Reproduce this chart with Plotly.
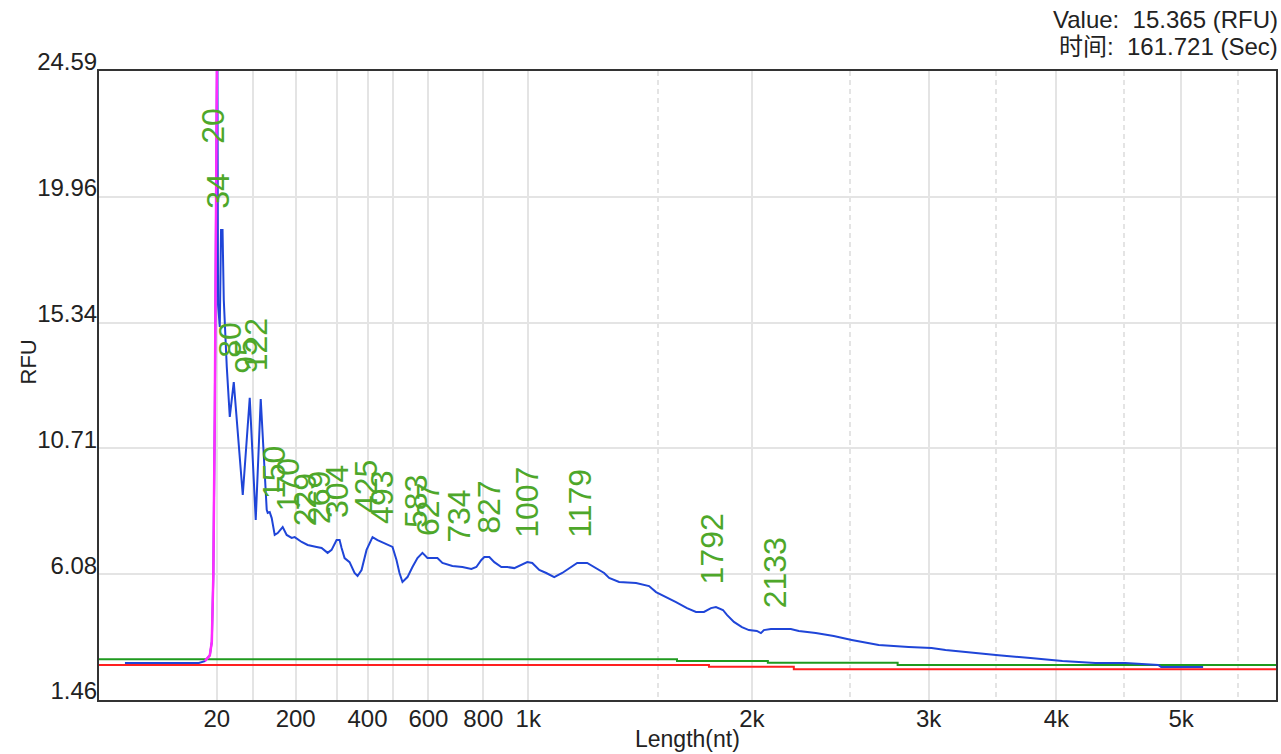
import plotly.graph_objects as go

# ---- Size ladder: migration time (s) of each calibrated fragment length ----
ladder_time = [53.6, 60.8, 69.4, 77.6, 83.8, 88.8, 96.0, 107.0, 116.0, 160.8, 196.2, 221.8, 246.8]
ladder_text = ["20", "", "200", "", "400", "", "600", "800", "1k", "2k", "3k", "4k", "5k"]
ladder_minor_time = [142.0, 180.4, 209.8, 235.4, 258.2]   # 1.5k, 2.5k, 3.5k, 4.5k, 5.5k

# ---- RFU axis ticks ----
rfu_ticks = [1.46, 6.08, 10.71, 15.34, 19.96, 24.59]

# ---- Sample electropherogram (time s, RFU) ----
sample_time = [
    35.2, 50.0, 51.2, 52.2, 52.6, 52.9, 53.2, 53.5, 53.7, 53.85,
    54.2, 54.45, 54.75, 55.0, 55.6, 56.2, 57.0, 58.8, 60.2, 61.4,
    62.4, 63.6, 63.8, 64.2, 64.6, 65.2, 65.8, 66.8, 67.6, 68.6,
    69.2, 70.6, 71.8, 73.6, 74.6, 75.8, 76.6, 77.6, 78.2, 78.6,
    79.2, 80.2, 81.2, 81.8, 82.6, 83.6, 84.8, 85.8, 87.2, 88.2,
    88.8, 89.6, 90.2, 90.8, 91.8, 92.8, 93.8, 94.8, 95.8, 97.8,
    98.8, 100.8, 102.8, 104.6, 105.6, 106.6, 107.2, 108.2, 109.2, 110.6,
    111.8, 113.2, 114.6, 115.8, 116.8, 118.2, 119.6, 121.2, 122.8, 124.2,
    125.8, 127.8, 129.6, 131.2, 132.2, 134.2, 137.6, 140.2, 141.6, 143.6,
    145.6, 147.8, 149.6, 151.2, 152.6, 153.6, 155.0, 155.8, 157.2, 158.8,
    160.2, 161.8, 162.6, 163.2, 164.6, 168.6, 170.2, 173.6, 177.2, 180.8,
    183.6, 186.2, 192.2, 196.8, 199.6, 203.2, 210.2, 216.6, 223.0, 229.6,
    235.6, 242.2, 242.8, 251.2,
]
sample_rfu = [
    2.82, 2.82, 2.89, 3.10, 3.60, 6.00, 12.0, 20.0, 27.0, 16.0,
    15.18, 18.74, 18.74, 16.17, 13.71, 11.87, 13.15, 9.00, 12.57, 8.08,
    12.53, 8.45, 8.34, 8.37, 8.15, 7.53, 7.60, 7.82, 7.53, 7.42,
    7.45, 7.27, 7.16, 7.09, 7.05, 6.87, 6.98, 7.34, 7.34, 7.05,
    6.68, 6.53, 6.13, 6.02, 6.24, 6.98, 7.45, 7.34, 7.23, 7.16,
    7.09, 6.61, 6.13, 5.80, 5.98, 6.35, 6.68, 6.87, 6.68, 6.68,
    6.50, 6.39, 6.35, 6.28, 6.35, 6.61, 6.72, 6.72, 6.53, 6.35,
    6.35, 6.31, 6.42, 6.53, 6.50, 6.24, 6.13, 5.98, 6.13, 6.31,
    6.50, 6.50, 6.31, 6.13, 5.95, 5.80, 5.76, 5.65, 5.43, 5.25,
    5.06, 4.84, 4.70, 4.70, 4.84, 4.88, 4.77, 4.59, 4.33, 4.14,
    4.03, 4.00, 3.92, 4.03, 4.07, 4.07, 4.00, 3.92, 3.81, 3.67,
    3.56, 3.48, 3.41, 3.37, 3.30, 3.23, 3.11, 3.00, 2.89, 2.82,
    2.82, 2.75, 2.67, 2.67,
]

# ---- Lower marker trace ----
marker_time = [51.2, 52.2, 52.6, 52.9, 53.2, 53.5, 53.7, 53.8]
marker_rfu = [2.89, 3.10, 3.60, 6.00, 12.0, 20.0, 27.0, 32.0]

# ---- Baseline / threshold traces (stepwise) ----
threshold_time = [30.0, 145.8, 164.0, 190.0, 265.8]
threshold_rfu = [2.96, 2.89, 2.83, 2.75, 2.75]
baseline_time = [30.0, 152.2, 169.2, 265.8]
baseline_rfu = [2.75, 2.68, 2.59, 2.59]

# ---- Called peaks: size label, time (s), height (RFU) ----
peak_nt = ["20", "34", "80", "95", "122", "150", "170", "229", "269", "304",
           "425", "493", "583", "627", "734", "827", "1007", "1179", "1792", "2133"]
peak_time = [52.8, 53.8, 56.2, 59.4, 61.4, 65.2, 67.8, 71.2, 74.2, 77.8,
             83.4, 86.8, 93.6, 95.8, 102.2, 108.2, 115.6, 126.2, 152.8, 165.6]
peak_rfu = [21.06, 18.67, 13.19, 12.60, 12.71, 8.01, 7.56, 7.01, 7.09, 7.31,
            7.49, 7.09, 6.94, 6.64, 6.39, 6.72, 6.57, 6.57, 4.88, 4.00]

cursor_value = "15.365"
cursor_time = "161.721"

FONT = "Arial, Liberation Sans, Noto Sans CJK SC, sans-serif"
TEXT = "#222222"
GRID = "#e4e4e4"

fig = go.Figure()
fig.add_trace(go.Scatter(x=threshold_time, y=threshold_rfu, mode="lines",
                         line=dict(color="#1f9a1f", width=2, shape="hv"), hoverinfo="skip"))
fig.add_trace(go.Scatter(x=baseline_time, y=baseline_rfu, mode="lines",
                         line=dict(color="#ff2020", width=2, shape="hv"), hoverinfo="skip"))
fig.add_trace(go.Scatter(x=sample_time, y=sample_rfu, mode="lines",
                         line=dict(color="#1f45d8", width=2), hoverinfo="skip"))
fig.add_trace(go.Scatter(x=marker_time, y=marker_rfu, mode="lines",
                         line=dict(color="#ff2bff", width=2.5), hoverinfo="skip"))

for nt, t, h in zip(peak_nt, peak_time, peak_rfu):
    fig.add_annotation(x=t, y=h, text=nt, showarrow=False, textangle=-90,
                       xanchor="center", yanchor="bottom", yshift=21,
                       font=dict(family=FONT, size=32, color="#4ea72a"))

# cursor readout (two right-aligned lines above the plot frame)
fig.add_annotation(xref="paper", yref="paper", x=1, y=1, xanchor="right", yanchor="middle",
                   xshift=4, yshift=52, showarrow=False, text=f"Value:  {cursor_value} (RFU)",
                   font=dict(family=FONT, size=24, color=TEXT))
fig.add_annotation(xref="paper", yref="paper", x=1, y=1, xanchor="right", yanchor="middle",
                   xshift=4, yshift=25, showarrow=False, text=f"时间:  {cursor_time} (Sec)",
                   font=dict(family=FONT, size=24, color=TEXT))

# axis titles
fig.add_annotation(xref="paper", yref="paper", x=0.5, y=0, xanchor="center", yanchor="middle",
                   yshift=-39, showarrow=False, text="Length(nt)",
                   font=dict(family=FONT, size=23, color=TEXT))
fig.add_annotation(xref="paper", yref="paper", x=0, y=0.5, xanchor="center", yanchor="middle",
                   xshift=-71, yshift=23, showarrow=False, text="RFU", textangle=-90,
                   font=dict(family=FONT, size=22, color=TEXT))

fig.update_layout(
    width=1281, height=754,
    margin=dict(l=99, r=3, t=71, b=54),
    paper_bgcolor="white", plot_bgcolor="white",
    showlegend=False,
    font=dict(family=FONT, size=24, color=TEXT),
)
fig.update_xaxes(
    range=[30, 265.8], tickmode="array", tickvals=ladder_time, ticktext=ladder_text,
    showgrid=True, gridcolor=GRID, gridwidth=1.5, zeroline=False,
    showline=True, linecolor="#333333", linewidth=2, mirror=True,
    ticks="", ticklabelstandoff=-4,
    tickfont=dict(family=FONT, size=24, color=TEXT),
    minor=dict(tickmode="array", tickvals=ladder_minor_time, showgrid=True,
               gridcolor=GRID, gridwidth=1.5, griddash="5px,4px", ticks=""),
)
fig.update_yaxes(
    range=[rfu_ticks[0], rfu_ticks[-1]], tickmode="array", tickvals=rfu_ticks,
    ticktext=[f"{v:.2f}" for v in rfu_ticks],
    showgrid=True, gridcolor=GRID, gridwidth=1.5, zeroline=False,
    showline=True, linecolor="#333333", linewidth=2, mirror=True,
    ticks="", ticklabelstandoff=-5, ticklabelshift=-9,
    tickfont=dict(family=FONT, size=24, color=TEXT),
)

fig.write_html("out.html")
